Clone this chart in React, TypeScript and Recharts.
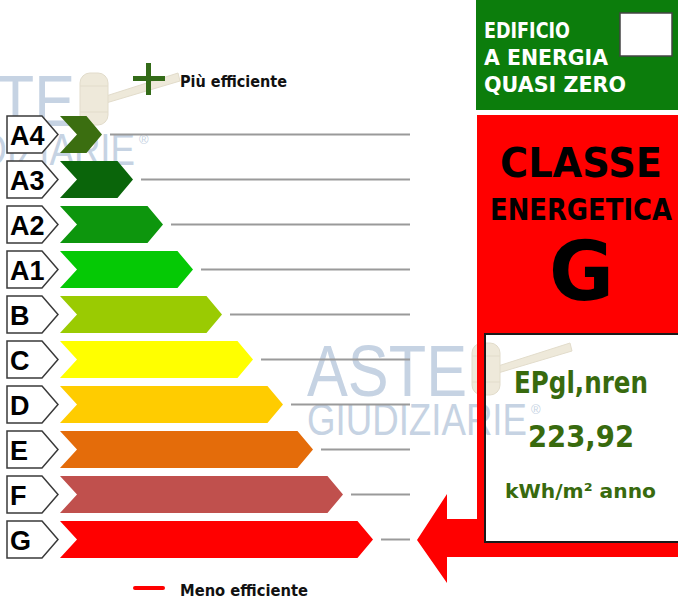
import React from 'react';
import { BarChart, Bar, XAxis, YAxis, Cell } from 'recharts';

// energy classes, best first
const classes = ['A4', 'A3', 'A2', 'A1', 'B', 'C', 'D', 'E', 'F', 'G'];
// bar length of each class arrow (same units as the scale)
const barLength = [42, 73, 103, 133, 162, 193, 223, 253, 283, 313];
const scaleEnd = 350;
const classColors = ['#3b6e10', '#0a650a', '#0d960d', '#05c905', '#9acb02', '#ffff00', '#ffcc00', '#e46c0a', '#c0504d', '#ff0000'];

const selectedClass = 'G';
const nzebText = ['EDIFICIO', 'A ENERGIA', 'QUASI ZERO'];
const indexName = 'EPgl,nren';
const indexValue = '223,92';
const indexUnit = 'kWh/m² anno';

const rows = classes.map((cls, i) => ({ cls, value: barLength[i], rest: scaleEnd - barLength[i] }));

const panelFont = '"DejaVu Sans", sans-serif';
const labelFont = '"Liberation Sans", Arial, sans-serif';
const textGreen = '#386a0e';

function Chevron(props: any) {
  const { x, y, width, height, fill } = props;
  const tip = height * 0.42;
  const notch = height * 0.46;
  const d = `M${x},${y} L${x + width - tip},${y} L${x + width},${y + height / 2} L${x + width - tip},${y + height} L${x},${y + height} L${x + notch},${y + height / 2} Z`;
  return <path d={d} fill={fill} />;
}

function Leader(props: any) {
  const { x, y, width, height } = props;
  return <line x1={x + 8} x2={x + width} y1={y + height / 2} y2={y + height / 2} stroke="#9a9a9a" strokeWidth={2} />;
}

function ClassTick(props: any) {
  const { x, y, payload } = props;
  const right = x - 2;
  const left = x - 53;
  const h = 37;
  const d = `M${left},${y - h / 2} L${right - 16},${y - h / 2} L${right},${y} L${right - 16},${y + h / 2} L${left},${y + h / 2} Z`;
  return (
    <g>
      <path d={d} fill="#fff" stroke="#3a3a3a" strokeWidth={1.5} />
      <text x={left + 3} y={y + 10} fontFamily={labelFont} fontWeight="bold" fontSize={27} fill="#000">
        {payload.value}
      </text>
    </g>
  );
}

function Watermark({ dx, dy }: { dx: number; dy: number }) {
  return (
    <g transform={`translate(${dx},${dy})`}>
      <g fill="#eee9da" stroke="#e2dccb" strokeWidth={1}>
        <polygon points="498,366 498,373 572,351 570,343" />
        <rect x={472} y={343} width={28} height={52} rx={10} />
        <line x1={472} x2={500} y1={356} y2={356} />
        <line x1={472} x2={500} y1={382} y2={382} />
      </g>
      <text x={307} y={396} fontFamily={labelFont} fontSize={73} fill="#c6d3e3" textLength={160} lengthAdjust="spacingAndGlyphs">ASTE</text>
      <text x={307} y={435} fontFamily={labelFont} fontSize={44} fill="#c6d3e3" textLength={220} lengthAdjust="spacingAndGlyphs">GIUDIZIARIE</text>
      <text x={531} y={414} fontFamily={labelFont} fontSize={13} fill="#c6d3e3">®</text>
    </g>
  );
}

export default function App() {
  const selIdx = classes.indexOf(selectedClass);
  return (
    <div style={{ position: 'absolute', left: 0, top: 0, width: 678, height: 597, background: '#fff', overflow: 'hidden' }}>
      <svg width={678} height={597} style={{ position: 'absolute', left: 0, top: 0 }}>
        <Watermark dx={-392} dy={-270} />
        <Watermark dx={0} dy={0} />
      </svg>
      <div style={{ position: 'absolute', left: 0, top: 0 }}>
        <BarChart
          width={678}
          height={597}
          data={rows}
          layout="vertical"
          margin={{ top: 112, right: 268, bottom: 35, left: 7 }}
          barSize={37}
        >
          <XAxis type="number" hide domain={[0, scaleEnd]} />
          <YAxis
            type="category"
            dataKey="cls"
            width={53}
            axisLine={false}
            tickLine={false}
            tickSize={0}
            tickMargin={0}
            interval={0}
            tick={<ClassTick />}
          />
          <Bar dataKey="value" stackId="s" shape={<Chevron />} isAnimationActive={false}>
            {rows.map((r, i) => (
              <Cell key={r.cls} fill={classColors[i]} />
            ))}
          </Bar>
          <Bar dataKey="rest" stackId="s" shape={<Leader />} isAnimationActive={false} />
        </BarChart>
      </div>
      <svg width={678} height={597} style={{ position: 'absolute', left: 0, top: 0 }}>
        <defs>
          <clipPath id="whiteBox">
            <rect x={486} y={335} width={192} height={206} />
          </clipPath>
        </defs>
        {/* top / bottom captions */}
        <rect x={133} y={76} width={32} height={5} fill="#336b18" />
        <rect x={146} y={63} width={5} height={32} fill="#336b18" />
        <text x={180} y={87} fontFamily={panelFont} fontWeight="bold" fontSize={15} fill="#111" textLength={107} lengthAdjust="spacingAndGlyphs">Più efficiente</text>
        <rect x={133} y={586} width={32} height={4} rx={2} fill="#ff0000" />
        <text x={180} y={596} fontFamily={panelFont} fontWeight="bold" fontSize={15} fill="#111" textLength={128} lengthAdjust="spacingAndGlyphs">Meno efficiente</text>

        {/* nZEB box */}
        <rect x={476} y={0} width={202} height={110} fill="#0c7d0c" />
        {nzebText.map((t, i) => (
          <text key={t} x={484} y={38 + i * 27} fontFamily={panelFont} fontWeight="bold" fontSize={22} fill="#fff"
            textLength={[86, 124, 142][i]} lengthAdjust="spacingAndGlyphs">{t}</text>
        ))}
        <rect x={620} y={13} width={52} height={43} fill="#fff" stroke="#444" strokeWidth={1.5} />

        {/* class panel */}
        <rect x={477} y={115} width={201} height={442} fill={classColors[selIdx]} />
        <polygon points="417,540 447,494 447,519 478,519 478,557 447,557 447,583" fill={classColors[selIdx]} />
        <text x={500} y={177} fontFamily={panelFont} fontWeight="bold" fontSize={41} fill="#000" textLength={162} lengthAdjust="spacingAndGlyphs">CLASSE</text>
        <text x={490} y={220} fontFamily={panelFont} fontWeight="bold" fontSize={31} fill="#000" textLength={182} lengthAdjust="spacingAndGlyphs">ENERGETICA</text>
        <text x={549} y={300} fontFamily={panelFont} fontWeight="bold" fontSize={82} fill="#000" textLength={65} lengthAdjust="spacingAndGlyphs">{selectedClass}</text>

        <rect x={485} y={334} width={200} height={208} fill="#fff" stroke="#1a1a1a" strokeWidth={2} />
        <g clipPath="url(#whiteBox)">
          <Watermark dx={0} dy={0} />
        </g>
        <text x={514} y={393} fontFamily={panelFont} fontWeight="bold" fontSize={30} fill={textGreen} textLength={134} lengthAdjust="spacingAndGlyphs">{indexName}</text>
        <text x={528} y={447} fontFamily={panelFont} fontWeight="bold" fontSize={31} fill={textGreen} textLength={106} lengthAdjust="spacingAndGlyphs">{indexValue}</text>
        <text x={505} y={498} fontFamily={panelFont} fontWeight="bold" fontSize={20} fill={textGreen} textLength={151} lengthAdjust="spacingAndGlyphs">{indexUnit}</text>
      </svg>
    </div>
  );
}
